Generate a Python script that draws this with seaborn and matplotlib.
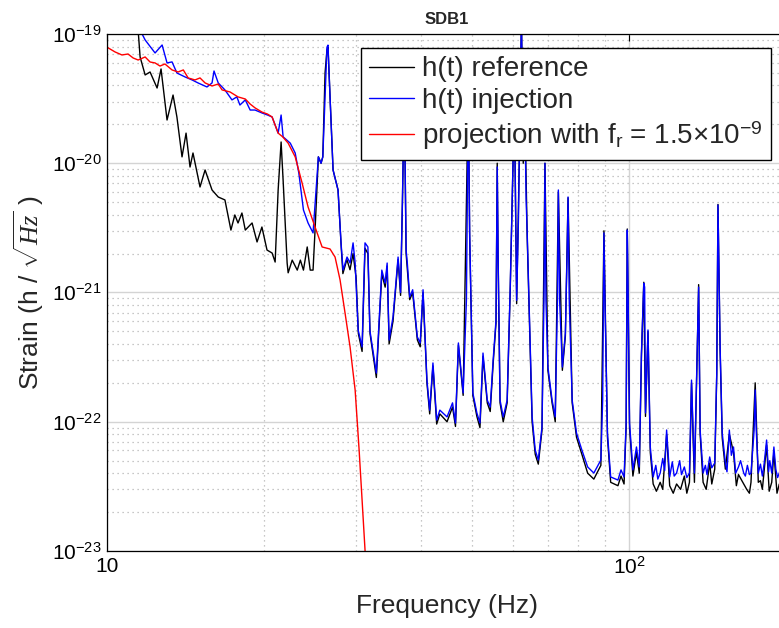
import numpy as np
import pandas as pd
import matplotlib
matplotlib.use('Agg')
import matplotlib.pyplot as plt
from matplotlib.ticker import LogLocator, NullFormatter
import seaborn as sns

# Dati (frequenza in Hz, strain in 1/sqrt(Hz))
freq_proj = [10.0, 10.36, 10.68, 10.97, 11.22, 11.47, 11.83, 12.09, 12.36, 12.63, 12.91,
             13.32, 13.68, 14.0, 14.3, 14.74, 15.07, 15.41, 15.89, 16.33, 16.61, 17.2,
             17.82, 18.4, 18.8, 19.21, 19.8, 20.3, 20.71, 21.27, 21.7, 22.23, 22.93,
             23.64, 24.27, 25.03, 25.82, 26.74, 27.34, 27.95, 28.57, 29.21, 29.87,
             30.4, 30.8, 31.21, 31.5]
strain_proj = [7.9e-20, 7.26e-20, 6.88e-20, 7.0e-20, 6.52e-20, 6.29e-20, 6.64e-20, 6.07e-20,
               5.97e-20, 5.65e-20, 5.86e-20, 5.27e-20, 5.08e-20, 5.27e-20, 4.57e-20, 4.41e-20,
               4.57e-20, 4.18e-20, 3.96e-20, 4.1e-20, 3.69e-20, 3.56e-20, 3.26e-20, 3.14e-20,
               2.87e-20, 2.68e-20, 2.49e-20, 2.4e-20, 2.28e-20, 1.71e-20, 1.6e-20, 1.43e-20,
               1.12e-20, 7.03e-21, 4.59e-21, 3.21e-21, 2.25e-21, 2.17e-21, 1.88e-21, 1.25e-21,
               6.94e-22, 3.79e-22, 1.76e-22, 6.04e-23, 2.48e-23, 1.0e-23, 6.0e-24]

freq_inj_low = [10.0, 11.0, 11.57, 11.83, 12.36, 12.75, 13.03, 13.32, 13.61, 14.11, 14.55, 14.94,
                15.54, 15.89, 16.03, 16.33, 16.82, 17.35, 17.73, 17.97, 18.4, 18.8, 19.21, 19.8,
                20.3, 20.71, 21.27, 21.55, 21.74, 22.44, 22.93, 23.3, 23.78, 24.27, 24.81, 25.14,
                25.4, 25.7, 25.9, 26.16, 26.38, 26.5, 26.74, 27.1, 27.7,
                28.07, 28.32, 28.82, 29.21, 29.6, 29.87, 30.27, 30.8, 31.2, 31.6, 31.87, 32.3,
                32.8, 33.6, 34.1, 34.4, 34.7, 35.3, 36.1, 36.5, 36.8, 37.1, 37.4, 37.6, 38.0,
                38.5, 39.3, 39.8, 40.3, 41.0, 41.5, 42.1, 42.8, 43.4, 44.8, 45.9, 46.5, 47.1,
                48.1, 48.8, 49.2, 49.5, 50.2, 51.1, 51.8, 52.5, 53.5, 54.2, 54.9, 55.6, 55.9,
                56.1, 56.6, 57.4, 58.4, 59.2, 59.7, 60.3, 60.9, 61.4, 61.6, 62.2, 62.7, 63.0,
                63.5, 63.8, 65.2, 66.1, 67.0, 68.1, 68.7, 69.0, 69.3, 69.9, 71.2, 72.2, 72.9,
                73.2, 73.6, 74.5, 75.5, 76.1, 76.4, 76.8, 77.8, 79.3, 81.2, 83.3, 85.6, 88.3,
                89.0, 89.5, 89.9, 90.9, 92.2, 95.2, 96.5, 97.8, 98.7, 99.2, 99.6, 100.2, 101.7,
                103.3, 104.6, 105.6, 106.7, 107.1, 107.5, 108.7]
strain_inj_low = [2.5e-19, 1.6e-19, 1.07e-19, 8.99e-20, 7.13e-20, 8.22e-20, 5.97e-20, 6.08e-20,
                  4.99e-20, 4.65e-20, 4.41e-20, 4.18e-20, 3.89e-20, 4.18e-20, 5.17e-20, 4.18e-20,
                  3.69e-20, 3.09e-20, 3.26e-20, 2.82e-20, 3.09e-20, 2.58e-20, 2.58e-20, 2.45e-20,
                  2.36e-20, 2.28e-20, 1.71e-20, 2.36e-20, 1.6e-20, 1.43e-20, 1.2e-20, 8.41e-21,
                  4.35e-21, 3.45e-21, 2.89e-21, 6.21e-21, 1.12e-20, 1.0e-20, 1.12e-20, 3.26e-20,
                  7.9e-20, 8.2e-20, 3.26e-20, 8.87e-21, 6.21e-21,
                  2.42e-21, 1.49e-21, 1.88e-21, 1.69e-21, 2.42e-21, 1.69e-21, 5.13e-22, 3.79e-22,
                  2.42e-21, 2.25e-21, 5.13e-22, 3.59e-22, 2.38e-22, 1.49e-21, 1.18e-21, 1.69e-21,
                  4.29e-22, 6.46e-22, 1.88e-21, 1.0e-21, 5.2e-21, 3.69e-20, 2.13e-21, 1.69e-21,
                  9.23e-22, 1.05e-21, 4.53e-22, 4.07e-22, 1.05e-21, 2.1e-22, 1.23e-22, 2.85e-22,
                  1.03e-22, 1.23e-22, 1.09e-22, 1.4e-22, 9.78e-23, 4.07e-22, 1.67e-22, 8.7e-22,
                  3.69e-20, 2.89e-21, 1.67e-22, 1.17e-22, 9.78e-23, 3.4e-22, 1.47e-22, 1.3e-22,
                  3.0e-22, 6.13e-22, 9.35e-21, 2.13e-21, 1.47e-22, 1.09e-22, 1.47e-22, 1.1e-21,
                  5.2e-21, 3.09e-20, 8.7e-22, 3.84e-21, 1.06e-20, 1.3e-19, 1.06e-20, 4.41e-20,
                  5.2e-21, 2.89e-21, 1.09e-22, 6.04e-23, 5.06e-23, 9.1e-23, 8.7e-22, 1.0e-20,
                  8.7e-22, 2.65e-22, 1.47e-22, 1.09e-22, 8.7e-22, 6.21e-21, 8.7e-22, 2.65e-22,
                  4.86e-22, 2.13e-21, 5.48e-21, 8.7e-22, 1.47e-22, 8.18e-23, 6.04e-23, 4.47e-23,
                  4.01e-23, 5.06e-23, 1.47e-22, 2.89e-21, 8.7e-22, 8.18e-23, 3.74e-23, 3.54e-23,
                  4.24e-23, 3.74e-23, 9.78e-23, 3.04e-21, 8.7e-22, 9.78e-23, 4.24e-23, 6.38e-23,
                  4.47e-23, 3.4e-22, 1.18e-21, 1.1e-21, 1.17e-22, 5.13e-22]
freq_inj_high = [109.8, 111.2, 112.5, 113.5, 114.7, 116.0, 117.0, 118.0, 119.6, 121.0, 122.0,
                 123.3, 125.0, 126.0, 127.6, 129.0, 130.5, 131.7, 133.4, 135.9, 136.8, 138.6,
                 140.0, 141.0, 142.7, 144.0, 145.9, 147.2, 148.0, 149.4, 150.8, 152.9, 154.0,
                 155.6, 157.0, 158.5, 160.0, 162.0, 163.5, 165.8, 167.0, 168.5, 170.0, 171.2,
                 173.6, 174.4, 175.2, 176.8, 178.5, 180.0, 181.5, 183.4, 185.0, 186.0, 187.6,
                 189.4, 191.0, 192.5, 194.0, 196.0, 198.0]
strain_inj_high = [6.38e-23, 3.74e-23, 4.6e-23, 3.6e-23, 4.01e-23, 5.2e-23, 4.2e-23, 8.63e-23,
                   3.74e-23, 4.9e-23, 3.8e-23, 4.01e-23, 5.0e-23, 3.9e-23, 4.47e-23, 3.7e-23,
                   4.01e-23, 2.1e-22, 4.01e-23, 1.1e-21, 8.63e-23, 4.01e-23, 4.6e-23, 3.9e-23,
                   5.34e-23, 4.4e-23, 4.8e-23, 2.38e-22, 4.75e-21, 3.79e-22, 8.18e-23, 4.8e-23,
                   4.1e-23, 8.63e-23, 5.5e-23, 6.38e-23, 4.0e-23, 4.47e-23, 5.0e-23, 4.01e-23,
                   3.8e-23, 4.6e-23, 3.9e-23, 4.01e-23, 8.63e-23, 1.76e-22, 8.63e-23, 4.01e-23,
                   4.7e-23, 3.8e-23, 4.8e-23, 7.22e-23, 4.1e-23, 5.0e-23, 4.01e-23, 6.38e-23,
                   4.3e-23, 3.7e-23, 4.01e-23, 4.8e-23, 4.24e-23]

freq_ref_low = [10.0, 11.3, 11.47, 11.57, 11.83, 12.09, 12.47, 12.69, 13.03, 13.38, 13.61, 13.92,
                14.17, 14.42, 14.61, 15.07, 15.41, 15.89, 16.33, 16.82, 17.27, 17.57, 17.82,
                18.13, 18.4, 18.96, 19.38, 19.8, 20.25, 20.71, 20.99, 21.27, 21.55, 21.74, 22.13,
                22.23, 22.63, 23.14, 23.46, 23.78, 24.18, 24.5, 24.81, 25.03, 25.4, 25.7, 25.9,
                26.16, 26.38, 26.5, 26.74, 27.1, 27.7,
                28.1, 28.3, 28.8, 29.2, 29.6, 30.0, 30.3, 30.8, 31.2, 31.6, 31.9, 32.3, 32.8,
                33.6, 34.1, 34.4, 34.7, 35.3, 36.1, 36.5, 36.8, 37.1, 37.4, 38.0, 38.5, 39.3,
                39.8, 40.3, 41.0, 41.5, 42.1, 42.8, 43.4, 44.8, 45.9, 46.5, 47.1, 48.1, 49.2,
                49.5, 50.2, 51.1, 51.8, 52.5, 53.5, 54.2, 54.9, 55.6, 55.9, 56.1, 56.6, 57.4,
                58.4, 59.2, 60.3, 60.9, 61.6, 62.2, 62.7, 63.0, 63.8, 65.2, 66.1, 67.0, 68.1,
                69.0, 69.9, 71.2, 72.2, 73.2, 74.5, 75.5, 76.4, 77.8, 79.3, 81.2, 83.3, 85.6,
                88.3, 89.5, 90.9, 92.2, 95.2, 96.5, 97.8, 98.7, 99.2, 100.2, 101.7, 103.3,
                104.6, 105.6, 106.7, 107.5, 108.7]
strain_ref_low = [2.0e-19, 1.2e-19, 1.07e-19, 6.64e-20, 4.82e-20, 5.08e-20, 3.82e-20, 5.36e-20,
                  2.16e-20, 3.37e-20, 2.28e-20, 1.12e-20, 1.71e-20, 9.35e-21, 1.2e-20, 6.55e-21,
                  8.87e-21, 6.21e-21, 5.48e-21, 5.2e-21, 3.04e-21, 3.98e-21, 3.45e-21, 4.12e-21,
                  3.04e-21, 3.45e-21, 2.46e-21, 3.21e-21, 2.13e-21, 2.02e-21, 1.72e-21, 6.21e-21,
                  1.46e-20, 7.42e-21, 1.69e-21, 1.42e-21, 1.78e-21, 1.49e-21, 1.78e-21, 1.49e-21,
                  2.25e-21, 1.49e-21, 1.49e-21, 3.04e-21, 1.12e-20, 1.0e-20, 1.12e-20, 4.99e-20,
                  7.52e-20, 7.9e-20, 3.26e-20, 8.87e-21, 6.21e-21,
                  2.2e-21, 1.4e-21, 1.8e-21, 1.5e-21, 2.0e-21, 1.3e-21, 4.8e-22, 3.5e-22, 2.2e-21,
                  2.0e-21, 4.8e-22, 3.4e-22, 2.2e-22, 1.4e-21, 1.1e-21, 1.6e-21, 4.0e-22, 6.0e-22,
                  1.8e-21, 9.5e-22, 5.0e-21, 3.5e-20, 2.0e-21, 8.8e-22, 1.0e-21, 4.3e-22, 3.8e-22,
                  1.0e-21, 2.0e-22, 1.15e-22, 2.7e-22, 9.6e-23, 1.15e-22, 1.0e-22, 1.3e-22,
                  9.2e-23, 3.9e-22, 1.6e-22, 3.5e-20, 2.7e-21, 1.6e-22, 1.1e-22, 9.0e-23, 3.2e-22,
                  1.4e-22, 1.2e-22, 2.8e-22, 5.8e-22, 1.0e-20, 2.0e-21, 1.4e-22, 1.0e-22, 1.4e-22,
                  1.05e-21, 3.0e-20, 8.2e-22, 1.0e-20, 1.3e-19, 1.0e-20, 4.2e-20, 2.7e-21, 1.0e-22,
                  5.6e-23, 4.7e-23, 8.6e-23, 1.0e-20, 2.5e-22, 1.4e-22, 1.0e-22, 6.0e-21, 2.5e-22,
                  4.6e-22, 5.4e-21, 1.4e-22, 7.6e-23, 5.6e-23, 4.0e-23, 3.6e-23, 4.6e-23, 3.0e-21,
                  7.6e-23, 3.4e-23, 3.2e-23, 3.8e-23, 3.3e-23, 9.0e-23, 3.1e-21, 9.0e-23, 3.8e-23,
                  5.8e-23, 4.0e-23, 3.2e-22, 1.2e-21, 1.1e-22, 5.0e-22]
freq_ref_high = [109.8, 111.2, 112.8, 114.7, 116.0, 118.0, 119.6, 121.5, 123.3, 125.5, 127.6,
                 129.0, 130.5, 131.7, 133.4, 135.9, 136.8, 138.6, 140.5, 142.7, 144.0, 145.9,
                 147.2, 148.0, 149.4, 150.8, 152.9, 155.6, 158.5, 160.5, 162.0, 165.8, 168.0,
                 170.0, 171.2, 174.4, 176.8, 178.5, 180.0, 183.4, 185.5, 187.6, 189.4, 192.0,
                 194.0, 196.0, 198.0]
strain_ref_high = [5.8e-23, 3.3e-23, 2.9e-23, 3.4e-23, 3.0e-23, 8.0e-23, 3.2e-23, 2.8e-23,
                   3.3e-23, 3.0e-23, 3.8e-23, 2.8e-23, 3.4e-23, 2.0e-22, 3.4e-23, 1.15e-21,
                   8.0e-23, 3.4e-23, 3.0e-23, 4.8e-23, 3.3e-23, 4.3e-23, 2.3e-22, 4.8e-21,
                   3.6e-22, 7.5e-23, 4.3e-23, 8.0e-23, 5.8e-23, 3.2e-23, 3.9e-23, 3.3e-23,
                   3.0e-23, 2.8e-23, 3.4e-23, 2.0e-22, 3.4e-23, 3.5e-23, 3.0e-23, 6.6e-23,
                   2.9e-23, 3.4e-23, 5.8e-23, 2.8e-23, 3.3e-23, 3.1e-23, 3.5e-23]

x_ticks = [10, 100]
x_tick_labels = ['10', r'$10^2$']
y_ticks = [1e-23, 1e-22, 1e-21, 1e-20, 1e-19]
y_tick_labels = [r'$10^{-23}$', r'$10^{-22}$', r'$10^{-21}$', r'$10^{-20}$', r'$10^{-19}$']

ref = pd.DataFrame({'freq': freq_ref_low + freq_ref_high,
                    'strain': strain_ref_low + strain_ref_high})
inj = pd.DataFrame({'freq': freq_inj_low + freq_inj_high,
                    'strain': strain_inj_low + strain_inj_high})
proj = pd.DataFrame({'freq': freq_proj, 'strain': strain_proj})

# Stile
sns.set_theme(style='white')
plt.rcParams['font.family'] = ['Liberation Sans', 'DejaVu Sans']
plt.rcParams['mathtext.fontset'] = 'custom'
plt.rcParams['mathtext.rm'] = 'Liberation Sans'
plt.rcParams['mathtext.it'] = 'Liberation Serif:italic'
plt.rcParams['mathtext.bf'] = 'Liberation Sans:bold'

fig = plt.figure(figsize=(7.79, 6.28), dpi=100)
ax = fig.add_axes([0.1374, 0.1226, 0.8719, 0.8233])

# Grafico
sns.lineplot(data=ref, x='freq', y='strain', color='black', lw=1.0, estimator=None,
             sort=False, ax=ax, label='h(t) reference')
sns.lineplot(data=inj, x='freq', y='strain', color='#0000ff', lw=1.0, estimator=None,
             sort=False, ax=ax, label='h(t) injection')
sns.lineplot(data=proj, x='freq', y='strain', color='#ff0000', lw=1.0, estimator=None,
             sort=False, ax=ax, label=r'projection with f$_\mathregular{r}$ = 1.5×10$^{-9}$')

ax.set_xscale('log')
ax.set_yscale('log')
ax.set_xlim(10, 200)
ax.set_ylim(1e-23, 1e-19)

ax.set_xticks(x_ticks)
ax.set_xticklabels(x_tick_labels)
ax.set_yticks(y_ticks)
ax.set_yticklabels(y_tick_labels)
ax.xaxis.set_minor_locator(LogLocator(base=10, subs=range(2, 10)))
ax.yaxis.set_minor_locator(LogLocator(base=10, subs=range(2, 10), numticks=20))
ax.xaxis.set_minor_formatter(NullFormatter())
ax.yaxis.set_minor_formatter(NullFormatter())

ax.grid(True, which='major', color='#d4d4d4', lw=1.0, ls='-')
ax.grid(True, which='minor', color='#b5b5b5', lw=0.9, ls=(0, (1, 3)))
ax.set_axisbelow(True)

ax.tick_params(which='major', direction='in', length=5, width=0.8, top=True, right=True,
               labelsize=15, colors='black', pad=4)
ax.tick_params(which='minor', length=0)
for s in ax.spines.values():
    s.set_color('black')
    s.set_linewidth(0.9)

ax.set_title('SDB1', fontweight='bold', fontsize=12, pad=7)
ax.set_xlabel('Frequency (Hz)', fontsize=19, labelpad=12)
ax.set_ylabel(r'Strain (h / $\sqrt{Hz}$ )', fontsize=19, labelpad=4)

leg = ax.legend(loc='upper right', bbox_to_anchor=(0.978, 0.973), borderaxespad=0,
                fontsize=20, frameon=True, fancybox=False, edgecolor='black',
                framealpha=1, handlelength=1.6, handletextpad=0.3, labelspacing=0.2,
                borderpad=0.3)
leg.get_frame().set_linewidth(1.0)

plt.savefig('out.png', dpi=100)
